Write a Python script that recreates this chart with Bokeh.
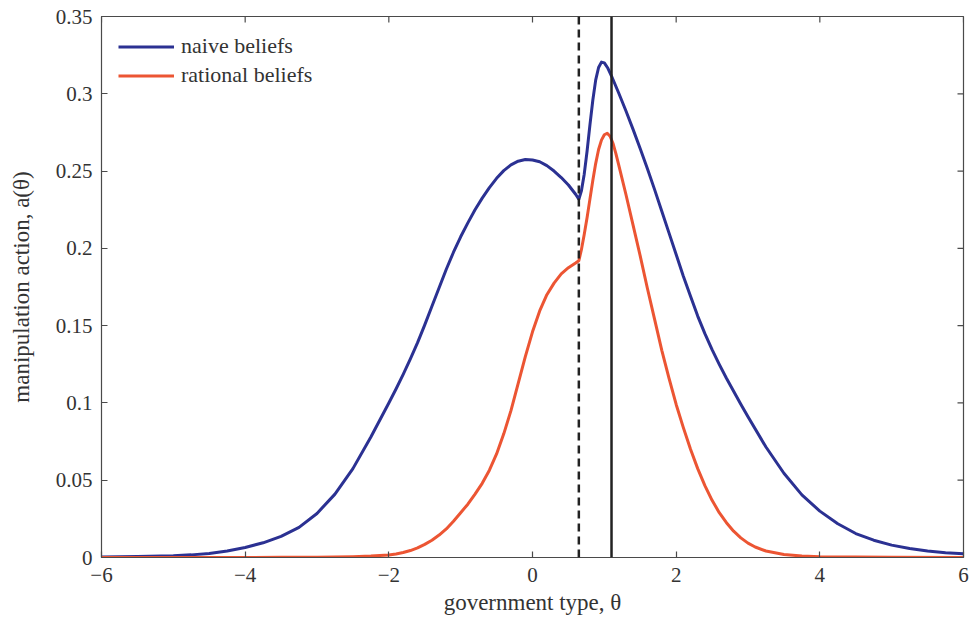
import math
from bokeh.plotting import figure
from bokeh.models import Span, Legend, LegendItem, FixedTicker, Range1d
from bokeh.embed import file_html
from bokeh.resources import INLINE

# ---- data ----
theta_naive = [-6.0, -5.5, -5.0, -4.75, -4.5, -4.25, -4.0, -3.75, -3.5, -3.25, -3.0, -2.75,
               -2.5, -2.25, -2.0, -1.9, -1.8, -1.7, -1.6, -1.5, -1.4, -1.3, -1.2, -1.1,
               -1.0, -0.9, -0.8, -0.7, -0.6, -0.5, -0.4, -0.3, -0.2, -0.1, 0.0, 0.1, 0.2,
               0.3, 0.4, 0.5, 0.6, 0.645, 0.68, 0.72, 0.76, 0.80, 0.84, 0.88, 0.92, 0.96,
               1.00, 1.05, 1.10, 1.15, 1.20, 1.30, 1.40, 1.50, 1.60, 1.70, 1.80, 1.90, 2.00,
               2.10, 2.20, 2.30, 2.40, 2.50, 2.60, 2.70, 2.80, 2.90, 3.00, 3.25, 3.50, 3.75,
               4.00, 4.25, 4.50, 4.75, 5.00, 5.25, 5.50, 5.75, 6.00]
a_naive = [0.0003, 0.0006, 0.0011, 0.0017, 0.0026, 0.0042, 0.0065, 0.0095, 0.0137, 0.0195,
           0.0285, 0.0410, 0.0575, 0.0780, 0.1000, 0.1090, 0.1185, 0.1285, 0.1390, 0.1505,
           0.1625, 0.1745, 0.1865, 0.1975, 0.2075, 0.2165, 0.2250, 0.2325, 0.2393, 0.2453,
           0.2503, 0.2540, 0.2564, 0.2575, 0.2572, 0.2560, 0.2535, 0.2500, 0.2458, 0.2410,
           0.2350, 0.2318, 0.2370, 0.2480, 0.2630, 0.2800, 0.2960, 0.3090, 0.3170, 0.3205,
           0.3200, 0.3165, 0.3115, 0.3060, 0.3005, 0.2890, 0.2770, 0.2645, 0.2515, 0.2380,
           0.2240, 0.2100, 0.1960, 0.1820, 0.1690, 0.1562, 0.1448, 0.1345, 0.1250, 0.1160,
           0.1075, 0.0992, 0.0910, 0.0715, 0.0545, 0.0405, 0.0300, 0.0218, 0.0155, 0.0112,
           0.0080, 0.0058, 0.0042, 0.0031, 0.0024]

theta_rational = [-6.0, -5.0, -4.0, -3.5, -3.0, -2.5, -2.25, -2.0, -1.9, -1.8, -1.7, -1.6,
                  -1.5, -1.4, -1.3, -1.2, -1.1, -1.0, -0.9, -0.8, -0.7, -0.6, -0.5, -0.4,
                  -0.3, -0.2, -0.1, 0.0, 0.1, 0.2, 0.3, 0.4, 0.5, 0.6, 0.645, 0.68, 0.72,
                  0.76, 0.80, 0.84, 0.88, 0.92, 0.96, 1.00, 1.04, 1.08, 1.12, 1.16, 1.20,
                  1.30, 1.40, 1.50, 1.60, 1.70, 1.80, 1.90, 2.00, 2.10, 2.20, 2.30, 2.40,
                  2.50, 2.60, 2.70, 2.80, 2.90, 3.00, 3.10, 3.25, 3.50, 3.75, 4.00, 5.00, 6.00]
a_rational = [0.0, 0.0, 0.0, 0.0001, 0.0002, 0.0005, 0.0009, 0.0016, 0.0023, 0.0032, 0.0045,
              0.0062, 0.0085, 0.0112, 0.0145, 0.0185, 0.0235, 0.0290, 0.0345, 0.0410, 0.0480,
              0.0565, 0.0670, 0.0800, 0.0950, 0.1125, 0.1300, 0.1460, 0.1595, 0.1700, 0.1775,
              0.1835, 0.1875, 0.1905, 0.1920, 0.1990, 0.2090, 0.2200, 0.2320, 0.2440, 0.2550,
              0.2640, 0.2700, 0.2735, 0.2745, 0.2725, 0.2680, 0.2615, 0.2540, 0.2350, 0.2150,
              0.1950, 0.1740, 0.1540, 0.1340, 0.1160, 0.0990, 0.0840, 0.0700, 0.0575, 0.0465,
              0.0370, 0.0290, 0.0225, 0.0170, 0.0127, 0.0093, 0.0068, 0.0042, 0.0020, 0.0010,
              0.0005, 0.0001, 0.0]

threshold_dashed = 0.645
threshold_solid = 1.10

x_min, x_max = -6, 6
y_min, y_max = 0, 0.35
x_ticks = [-6, -4, -2, 0, 2, 4, 6]
x_tick_labels = ["\u22126", "\u22124", "\u22122", "0", "2", "4", "6"]
y_ticks = [0, 0.05, 0.1, 0.15, 0.2, 0.25, 0.3, 0.35]
y_tick_labels = ["0", "0.05", "0.1", "0.15", "0.2", "0.25", "0.3", "0.35"]

BLUE = "#2b3192"
RED = "#ec5533"
FONT = "Liberation Serif"
TXT = "#333333"
AX = "#4a4a4a"

p = figure(width=973, height=629, output_backend="svg", toolbar_location=None,
           x_range=Range1d(x_min, x_max), y_range=Range1d(y_min, y_max),
           min_border_left=101, min_border_right=10, min_border_top=16, min_border_bottom=72)
p.background_fill_color = "white"
p.border_fill_color = "white"
p.grid.visible = False
p.outline_line_color = AX
p.outline_line_width = 1.2

for ax, ticks, labels in ((p.xaxis[0], x_ticks, x_tick_labels), (p.yaxis[0], y_ticks, y_tick_labels)):
    ax.ticker = FixedTicker(ticks=ticks)
    ax.major_label_overrides = {t: l for t, l in zip(ticks, labels)}
    ax.major_tick_in = 6
    ax.major_tick_out = 0
    ax.minor_tick_line_color = None
    ax.axis_line_color = AX
    ax.major_tick_line_color = AX
    ax.major_tick_line_width = 1.2
    ax.major_label_text_font = FONT
    ax.major_label_text_font_size = "21px"
    ax.major_label_text_color = TXT
    ax.axis_label_text_font = FONT
    ax.axis_label_text_font_size = "23px"
    ax.axis_label_text_font_style = "normal"
    ax.axis_label_text_color = TXT

p.xaxis[0].axis_label = "government type, \u03b8"
p.xaxis[0].major_label_standoff = 10
p.xaxis[0].axis_label_standoff = 5
p.yaxis[0].axis_label = "manipulation action, a(\u03b8)"
p.yaxis[0].major_label_standoff = 9
p.yaxis[0].axis_label_standoff = 19

# mirrored inward ticks on the top and right edges of the box
p.ray(x=x_ticks, y=[y_max] * len(x_ticks), length=6, length_units="screen",
      angle=-math.pi / 2, line_color=AX, line_width=1.2)
p.ray(x=[x_max] * len(y_ticks), y=y_ticks, length=6, length_units="screen",
      angle=math.pi, line_color=AX, line_width=1.2)

p.add_layout(Span(location=threshold_dashed, dimension="height", line_color="#222222",
                  line_width=2.5, line_dash="8 5"))
p.add_layout(Span(location=threshold_solid, dimension="height", line_color="#222222",
                  line_width=2.5))

r1 = p.line(theta_naive, a_naive, line_color=BLUE, line_width=3, line_join="round")
r2 = p.line(theta_rational, a_rational, line_color=RED, line_width=3, line_join="round")

legend = Legend(items=[LegendItem(label="naive beliefs", renderers=[r1]),
                       LegendItem(label="rational beliefs", renderers=[r2])],
                location="top_left", margin=2, padding=15, spacing=3,
                glyph_width=56, glyph_height=23, label_height=23, label_standoff=7,
                label_text_font=FONT, label_text_font_size="22px", label_text_color=TXT,
                background_fill_alpha=0, border_line_alpha=0)
p.add_layout(legend)

open("out.html", "w").write(file_html(p, INLINE))
